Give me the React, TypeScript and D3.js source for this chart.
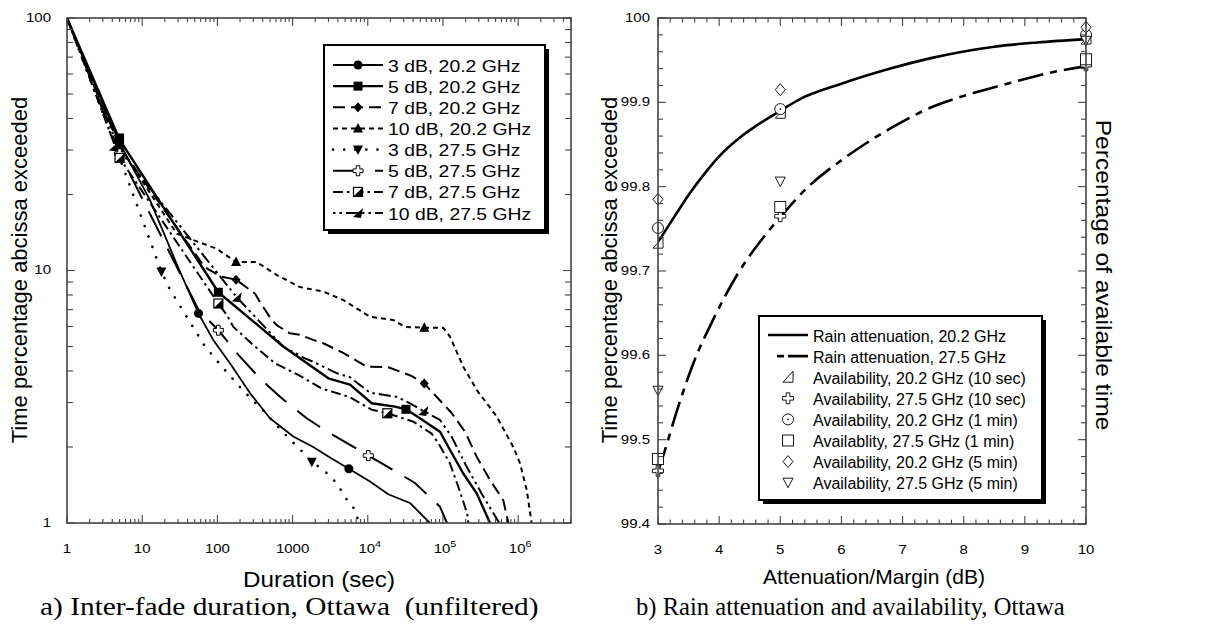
import React from "react";
import * as d3 from "d3";

type P = [number, number];

// ---------- Left panel: inter-fade duration (log-log) ----------
const leftNames = [
  "3 dB, 20.2 GHz",
  "5 dB, 20.2 GHz",
  "7 dB, 20.2 GHz",
  "10 dB, 20.2 GHz",
  "3 dB, 27.5 GHz",
  "5 dB, 27.5 GHz",
  "7 dB, 27.5 GHz",
  "10 dB, 27.5 GHz",
];

const s3dB202: P[] = [[1,100],[5,32],[12.7,19],[30,10.3],[56,6.76],[88,5.31],[147,4.29],[271,3.27],[500,2.6],[1020,2.2],[1880,2.0],[3300,1.8],[5600,1.64],[10700,1.46],[18700,1.3],[36400,1.2],[67000,1.0]];
const s5dB202: P[] = [[1,100],[5,33],[103,8.2],[752,5.0],[2990,3.74],[5800,3.53],[11300,2.98],[23000,2.89],[32200,2.82],[45500,2.64],[91200,2.3],[118000,2.0],[186000,1.57],[281000,1.31],[422000,1.0]];
const s7dB202: P[] = [[1,100],[5,31],[68,10.3],[114,9.44],[177,9.2],[316,8.1],[368,7.5],[527,6.37],[615,6.08],[922,5.64],[1250,5.56],[1880,5.31],[2560,5.15],[4720,4.72],[9660,4.16],[18700,4.14],[38400,3.82],[56400,3.57],[131000,2.72],[196000,2.3],[281000,1.83],[422000,1.48],[634000,1.23],[740000,1.0]];
const s10dB202: P[] = [[1,100],[5,31],[28.8,14],[47.8,13.2],[98,12.2],[177,10.8],[333,10.8],[615,9.6],[1250,8.6],[2560,8.25],[4720,7.64],[10700,6.56],[21800,6.37],[31200,5.98],[56400,5.93],[101000,5.93],[124000,5.47],[186000,4.16],[280000,3.37],[518000,2.64],[861000,2.0],[1060000,1.72],[1300000,1.35],[1510000,1.0]];
const s3dB275: P[] = [[1,100],[5,28],[18,9.9],[23.4,8.4],[68,5.02],[120,4.1],[221,3.34],[430,2.74],[834,2.21],[1190,1.99],[1800,1.75],[2310,1.66],[3310,1.52],[4270,1.37],[5240,1.24],[6760,1.13],[7600,1.0]];
const s5dB275: P[] = [[1,100],[5,29],[56,7.0],[103,5.8],[190,4.63],[368,3.74],[680,3.16],[1540,2.6],[2700,2.33],[6110,2.02],[10160,1.85],[19700,1.65],[42400,1.44],[91200,1.16],[113000,1.0]];
const s7dB275: P[] = [[1,100],[5,27.9],[103,7.4],[133,6.67],[163,5.98],[300,5.07],[583,4.29],[1190,3.86],[2440,3.41],[5800,3.15],[11300,2.81],[18200,2.72],[40300,2.52],[70700,2.26],[86700,2.07],[124000,1.72],[160000,1.39],[210000,1.09],[217000,1.0]];
const s10dB275: P[] = [[1,100],[5,30],[181,7.83],[752,4.99],[1460,4.49],[1880,4.35],[3860,3.92],[5800,3.78],[7870,3.52],[10700,3.28],[24200,3.16],[36400,2.98],[54600,2.78],[91200,2.56],[130000,2.2],[200000,1.7],[330000,1.3],[560000,1.0]];

const m3dB202: P[] = [[5,32],[56,6.76],[5600,1.64]];
const m5dB202: P[] = [[5,33.5],[103,8.2],[32200,2.82]];
const m7dB202: P[] = [[5,31],[177,9.2],[56400,3.57]];
const m10dB202: P[] = [[5,31],[177,10.8],[56400,5.93]];
const m3dB275: P[] = [[5,28],[18,9.9],[1800,1.75]];
const m5dB275: P[] = [[5,29],[103,5.8],[10160,1.85]];
const m7dB275: P[] = [[5,27.9],[103,7.4],[18200,2.72]];
const m10dB275: P[] = [[4.2,31],[181,7.83],[54600,2.78]];

const leftXTickLabels = ["1", "10", "100", "1000", "10^4", "10^5", "10^6"];
const leftYTickLabels = ["1", "10", "100"];

// ---------- Right panel: rain attenuation & availability ----------
const rain202: P[] = [[3,99.734],[3.3,99.768],[3.5,99.79],[3.8,99.819],[4,99.836],[4.35,99.859],[4.6,99.872],[5,99.89],[5.3,99.903],[6,99.922],[6.8,99.94],[7.5,99.953],[8.5,99.966],[9.2,99.971],[10,99.975]];
const rain275: P[] = [[3,99.462],[3.09,99.482],[3.33,99.539],[3.58,99.591],[3.9,99.642],[4.29,99.695],[4.78,99.745],[5,99.764],[5.43,99.798],[6.09,99.836],[6.8,99.869],[7.5,99.895],[8.16,99.911],[8.76,99.923],[9.41,99.935],[10,99.943]];

const avail202_10s: P[] = [[3,99.733],[5,99.887],[10,99.975]];
const avail275_10s: P[] = [[3,99.463],[5,99.765],[10,99.944]];
const avail202_1m: P[] = [[3,99.751],[5,99.892],[10,99.98]];
const avail275_1m: P[] = [[3,99.477],[5,99.776],[10,99.951]];
const avail202_5m: P[] = [[3,99.785],[5,99.915],[10,99.989]];
const avail275_5m: P[] = [[3,99.558],[5,99.806],[10,99.973]];

const rightNames = [
  "Rain attenuation, 20.2 GHz",
  "Rain attenuation, 27.5 GHz",
  "Availability, 20.2 GHz (10 sec)",
  "Availability, 27.5 GHz (10 sec)",
  "Availability, 20.2 GHz (1 min)",
  "Availablity, 27.5 GHz (1 min)",
  "Availability, 20.2 GHz (5 min)",
  "Availability, 27.5 GHz (5 min)",
];
const rightXTickLabels = ["3", "4", "5", "6", "7", "8", "9", "10"];
const rightYTickLabels = ["99.4", "99.5", "99.6", "99.7", "99.8", "99.9", "100"];

const SANS = "'Liberation Sans', Arial, Helvetica, sans-serif";
const SERIF = "'Liberation Serif', 'Times New Roman', serif";

function Txt(props: any) {
  const { x, y, size, sx = 1, anchor = "start", rot = 0, family = SANS, baseline = "central", children } = props;
  return (
    <text
      transform={`translate(${x},${y}) rotate(${rot}) scale(${sx},1)`}
      fontSize={size}
      fontFamily={family}
      textAnchor={anchor}
      dominantBaseline={baseline}
      fill="#000"
      style={{ whiteSpace: "pre" }}
    >
      {children}
    </text>
  );
}

function Marker({ type, x, y }: { type: string; x: number; y: number }) {
  const k = "#000";
  switch (type) {
    case "circle":
      return <circle cx={x} cy={y} r={4.5} fill={k} />;
    case "square":
      return <rect x={x - 4.5} y={y - 4.5} width={9} height={9} fill={k} />;
    case "diamond":
      return <path d={`M${x},${y - 5}L${x + 4.5},${y}L${x},${y + 5}L${x - 4.5},${y}Z`} fill={k} />;
    case "triUp":
      return <path d={`M${x},${y - 5.5}L${x + 5},${y + 4}L${x - 5},${y + 4}Z`} fill={k} />;
    case "triDown":
      return <path d={`M${x - 5},${y - 4}L${x + 5},${y - 4}L${x},${y + 5.5}Z`} fill={k} />;
    case "crossOpen":
      return (
        <path
          d={`M${x - 1.8},${y - 5}h3.6v3.2h3.2v3.6h-3.2v3.2h-3.6v-3.2h-3.2v-3.6h3.2Z`}
          fill="#fff"
          stroke={k}
          strokeWidth={1}
        />
      );
    case "halfSquare":
      return (
        <g>
          <rect x={x - 4.5} y={y - 4.5} width={9} height={9} fill="#fff" stroke={k} strokeWidth={1.2} />
          <path d={`M${x + 4.5},${y - 4.5}L${x + 4.5},${y + 4.5}L${x - 4.5},${y + 4.5}Z`} fill={k} />
        </g>
      );
    case "arrow":
      return <path d={`M${x - 5},${y + 4}L${x + 5},${y - 5}L${x + 3},${y + 5}Z`} fill={k} />;
    case "oRightTri":
      return <path d={`M${x - 5},${y + 5}L${x + 5},${y + 5}L${x + 5},${y - 6}Z`} fill="#fff" stroke={k} strokeWidth={0.9} />;
    case "oCross":
      return (
        <path
          d={`M${x - 1.8},${y - 5.5}h3.6v3.7h3.7v3.6h-3.7v3.7h-3.6v-3.7h-3.7v-3.6h3.7Z`}
          fill="#fff"
          stroke={k}
          strokeWidth={0.9}
        />
      );
    case "oCircle":
      return (
        <g>
          <circle cx={x} cy={y} r={5.5} fill="#fff" stroke={k} strokeWidth={0.9} />
          <circle cx={x} cy={y} r={0.8} fill={k} />
        </g>
      );
    case "oSquare":
      return <rect x={x - 5.5} y={y - 5.5} width={11} height={11} fill="#fff" stroke={k} strokeWidth={0.9} />;
    case "oDiamond":
      return <path d={`M${x},${y - 6}L${x + 5},${y}L${x},${y + 6}L${x - 5},${y}Z`} fill="#fff" stroke={k} strokeWidth={0.9} />;
    case "oTriDown":
      return <path d={`M${x - 5},${y - 4.5}L${x + 5},${y - 4.5}L${x},${y + 5}Z`} fill="#fff" stroke={k} strokeWidth={0.9} />;
  }
  return null;
}

function SupLabel({ x, y, label, size, sx }: any) {
  if (label.includes("^")) {
    const [base, exp] = label.split("^");
    return (
      <text
        transform={`translate(${x + 2},${y}) scale(${sx},1)`}
        fontSize={size}
        fontFamily={SANS}
        textAnchor="middle"
        fill="#000"
      >
        {base}
        <tspan fontSize={size * 0.72} dy={-6}>
          {exp}
        </tspan>
      </text>
    );
  }
  return <Txt x={x} y={y} size={size} sx={sx} anchor="middle" baseline="auto">{label}</Txt>;
}

export default function App() {
  // ---------- left scales ----------
  const L = { x0: 67, x1: 571, y0: 18, y1: 523 };
  const xL = d3.scaleLog().domain([1, 5.04e6]).range([L.x0, L.x1]);
  const yL = d3.scaleLog().domain([1, 100]).range([L.y1, L.y0]);
  const lineL = d3
    .line<P>()
    .x((d) => xL(d[0]))
    .y((d) => yL(d[1]));

  const leftSeries = [
    { data: s3dB202, marks: m3dB202, marker: "circle", dash: "none", w: 1.8 },
    { data: s5dB202, marks: m5dB202, marker: "square", dash: "none", w: 2.4 },
    { data: s7dB202, marks: m7dB202, marker: "diamond", dash: "12,6", w: 2 },
    { data: s10dB202, marks: m10dB202, marker: "triUp", dash: "5,4", w: 2 },
    { data: s3dB275, marks: m3dB275, marker: "triDown", dash: "0.1,11", w: 2.6, cap: "round" },
    { data: s5dB275, marks: m5dB275, marker: "crossOpen", dash: "28,14", w: 2 },
    { data: s7dB275, marks: m7dB275, marker: "halfSquare", dash: "10,4,2.5,4", w: 2 },
    { data: s10dB275, marks: m10dB275, marker: "arrow", dash: "2.5,4,2.5,4,12,4", w: 2 },
  ];

  const xMajL = d3.range(0, 7).map((e) => Math.pow(10, e));
  const xMinL: number[] = [];
  for (let e = 0; e <= 6; e++) for (let k = 2; k <= 9; k++) {
    const v = k * Math.pow(10, e);
    if (v < 5.04e6) xMinL.push(v);
  }
  const yMajL = [1, 10, 100];
  const yMinL: number[] = [];
  for (let e = 0; e <= 1; e++) for (let k = 2; k <= 9; k++) yMinL.push(k * Math.pow(10, e));

  // ---------- right scales ----------
  const R = { x0: 658, x1: 1086, y0: 18, y1: 524 };
  const xR = d3.scaleLinear().domain([3, 10]).range([R.x0, R.x1]);
  const yR = d3.scaleLinear().domain([99.4, 100]).range([R.y1, R.y0]);
  const lineR = d3
    .line<P>()
    .x((d) => xR(d[0]))
    .y((d) => yR(d[1]))
    .curve(d3.curveMonotoneX);

  const xMajR = d3.range(3, 10.001, 1);
  const xMinR = d3.range(3, 10.001, 0.2).filter((v) => Math.abs(v - Math.round(v)) > 1e-6);
  const yMajR = d3.range(0, 7).map((i) => 99.4 + i * 0.1);
  const yMinR = d3.range(0, 31).map((i) => 99.4 + i * 0.02).filter((_, i) => i % 5 !== 0);

  const availSets = [
    { data: avail202_10s, marker: "oRightTri" },
    { data: avail275_10s, marker: "oCross" },
    { data: avail202_1m, marker: "oCircle" },
    { data: avail275_1m, marker: "oSquare" },
    { data: avail202_5m, marker: "oDiamond" },
    { data: avail275_5m, marker: "oTriDown" },
  ];

  const frameColor = "#444";
  const tickW = 1.1;

  const lg = { x: 324, y: 45, w: 221, h: 185, row0: 65, dy: 21.15 };
  const rg = { x: 759, y: 316, w: 283, h: 184, row0: 335, dy: 21.1 };

  return (
    <svg
      width={1225}
      height={630}
      style={{ position: "absolute", left: 0, top: 0, background: "#fff" }}
      xmlns="http://www.w3.org/2000/svg"
    >
      <defs>
        <clipPath id="clipL">
          <rect x={L.x0} y={L.y0} width={L.x1 - L.x0} height={L.y1 - L.y0} />
        </clipPath>
        <clipPath id="clipR">
          <rect x={R.x0} y={R.y0} width={R.x1 - R.x0} height={R.y1 - R.y0} />
        </clipPath>
      </defs>
      <rect x={0} y={0} width={1225} height={630} fill="#fff" />

      {/* ================= LEFT PANEL ================= */}
      <g clipPath="url(#clipL)">
        {leftSeries.map((s, i) => (
          <path
            key={i}
            d={lineL(s.data) || ""}
            fill="none"
            stroke="#000"
            strokeWidth={s.w}
            strokeDasharray={s.dash}
            strokeLinecap={(s as any).cap || "butt"}
            strokeLinejoin="round"
          />
        ))}
        {leftSeries.map((s, i) =>
          s.marks.map((d, j) => <Marker key={`${i}-${j}`} type={s.marker} x={xL(d[0])} y={yL(d[1])} />)
        )}
      </g>
      <g stroke={frameColor} strokeWidth={tickW}>
        {xMajL.map((v) => (
          <g key={`xm${v}`}>
            <line x1={xL(v)} x2={xL(v)} y1={L.y1} y2={L.y1 - 8} />
            <line x1={xL(v)} x2={xL(v)} y1={L.y0} y2={L.y0 + 8} />
          </g>
        ))}
        {xMinL.map((v) => (
          <g key={`xn${v}`}>
            <line x1={xL(v)} x2={xL(v)} y1={L.y1} y2={L.y1 - 4} />
            <line x1={xL(v)} x2={xL(v)} y1={L.y0} y2={L.y0 + 4} />
          </g>
        ))}
        {yMajL.map((v) => (
          <g key={`ym${v}`}>
            <line x1={L.x0} x2={L.x0 + 8} y1={yL(v)} y2={yL(v)} />
            <line x1={L.x1} x2={L.x1 - 8} y1={yL(v)} y2={yL(v)} />
          </g>
        ))}
        {yMinL.map((v) => (
          <g key={`yn${v}`}>
            <line x1={L.x0} x2={L.x0 + 6} y1={yL(v)} y2={yL(v)} />
            <line x1={L.x1} x2={L.x1 - 6} y1={yL(v)} y2={yL(v)} />
          </g>
        ))}
      </g>
      <rect x={L.x0} y={L.y0} width={L.x1 - L.x0} height={L.y1 - L.y0} fill="none" stroke={frameColor} strokeWidth={1.6} />
      {xMajL.map((v, i) => (
        <SupLabel key={`xl${i}`} x={xL(v)} y={553} label={leftXTickLabels[i]} size={12} sx={1.25} />
      ))}
      {yMajL.map((v, i) => (
        <Txt key={`yl${i}`} x={51} y={yL(v)} size={12} sx={1.25} anchor="end">
          {leftYTickLabels[i]}
        </Txt>
      ))}
      <Txt x={319} y={587} size={22} sx={1.1} anchor="middle" baseline="auto">Duration (sec)</Txt>
      <Txt x={19} y={270} size={22} rot={-90} anchor="middle">Time percentage abcissa exceeded</Txt>
      <Txt x={40} y={615} size={26} sx={1.13} family={SERIF} baseline="auto">{"a) Inter-fade duration, Ottawa  (unfiltered)"}</Txt>

      {/* left legend */}
      <rect x={lg.x + 4} y={lg.y + 4} width={lg.w} height={lg.h} fill="#000" />
      <rect x={lg.x} y={lg.y} width={lg.w} height={lg.h} fill="#fff" stroke="#000" strokeWidth={2} />
      {leftSeries.map((s, i) => {
        const yy = lg.row0 + i * lg.dy;
        return (
          <g key={`lg${i}`}>
            <line x1={333} x2={383} y1={yy} y2={yy} stroke="#000" strokeWidth={s.w} strokeDasharray={s.dash} strokeLinecap={(s as any).cap || "butt"} />
            <Marker type={s.marker} x={358} y={yy} />
            <Txt x={388} y={yy + 1} size={17} sx={1.14}>{leftNames[i]}</Txt>
          </g>
        );
      })}

      {/* ================= RIGHT PANEL ================= */}
      <g clipPath="url(#clipR)">
        <path d={lineR(rain202) || ""} fill="none" stroke="#000" strokeWidth={2.6} />
        <path d={lineR(rain275) || ""} fill="none" stroke="#000" strokeWidth={2.6} strokeDasharray="26,7,7,7" />
      </g>
      {availSets.map((s, i) =>
        s.data.map((d, j) => <Marker key={`av${i}-${j}`} type={s.marker} x={xR(d[0])} y={yR(d[1])} />)
      )}
      <g stroke={frameColor} strokeWidth={tickW}>
        {xMajR.map((v) => (
          <g key={`rxm${v}`}>
            <line x1={xR(v)} x2={xR(v)} y1={R.y1} y2={R.y1 - 8} />
            <line x1={xR(v)} x2={xR(v)} y1={R.y0} y2={R.y0 + 8} />
          </g>
        ))}
        {xMinR.map((v, i) => (
          <g key={`rxn${i}`}>
            <line x1={xR(v)} x2={xR(v)} y1={R.y1} y2={R.y1 - 4.5} />
            <line x1={xR(v)} x2={xR(v)} y1={R.y0} y2={R.y0 + 4.5} />
          </g>
        ))}
        {yMajR.map((v, i) => (
          <g key={`rym${i}`}>
            <line x1={R.x0} x2={R.x0 + 8} y1={yR(v)} y2={yR(v)} />
            <line x1={R.x1} x2={R.x1 - 8} y1={yR(v)} y2={yR(v)} />
          </g>
        ))}
        {yMinR.map((v, i) => (
          <g key={`ryn${i}`}>
            <line x1={R.x0} x2={R.x0 + 5} y1={yR(v)} y2={yR(v)} />
            <line x1={R.x1} x2={R.x1 - 5} y1={yR(v)} y2={yR(v)} />
          </g>
        ))}
      </g>
      <rect x={R.x0} y={R.y0} width={R.x1 - R.x0} height={R.y1 - R.y0} fill="none" stroke={frameColor} strokeWidth={1.6} />
      {xMajR.map((v, i) => (
        <Txt key={`rxl${i}`} x={xR(v)} y={554} size={12.5} sx={1.2} anchor="middle" baseline="auto">
          {rightXTickLabels[i]}
        </Txt>
      ))}
      {yMajR.map((v, i) => (
        <Txt key={`ryl${i}`} x={650} y={yR(v)} size={12.5} sx={1.2} anchor="end">
          {rightYTickLabels[i]}
        </Txt>
      ))}
      <Txt x={874} y={584} size={21} anchor="middle" baseline="auto">Attenuation/Margin (dB)</Txt>
      <Txt x={609} y={270} size={22} rot={-90} anchor="middle">Time percentage abcissa exceeded</Txt>
      <Txt x={1104} y={275} size={22} sx={1.12} rot={90} anchor="middle">Percentage of available time</Txt>
      <Txt x={636} y={615} size={24.6} family={SERIF} baseline="auto">b) Rain attenuation and availability, Ottawa</Txt>

      {/* right legend */}
      <rect x={rg.x + 4} y={rg.y + 4} width={rg.w} height={rg.h} fill="#000" />
      <rect x={rg.x} y={rg.y} width={rg.w} height={rg.h} fill="#fff" stroke="#000" strokeWidth={2} />
      <line x1={768} x2={808} y1={rg.row0} y2={rg.row0} stroke="#000" strokeWidth={2.6} />
      <line x1={777} x2={808} y1={rg.row0 + rg.dy} y2={rg.row0 + rg.dy} stroke="#000" strokeWidth={2.6} strokeDasharray="7,4,20,0" />
      {availSets.map((s, i) => (
        <Marker key={`rgm${i}`} type={s.marker} x={788} y={rg.row0 + (i + 2) * rg.dy} />
      ))}
      {rightNames.map((n, i) => (
        <Txt key={`rgt${i}`} x={813} y={rg.row0 + i * rg.dy + 1} size={16}>
          {n}
        </Txt>
      ))}
    </svg>
  );
}
